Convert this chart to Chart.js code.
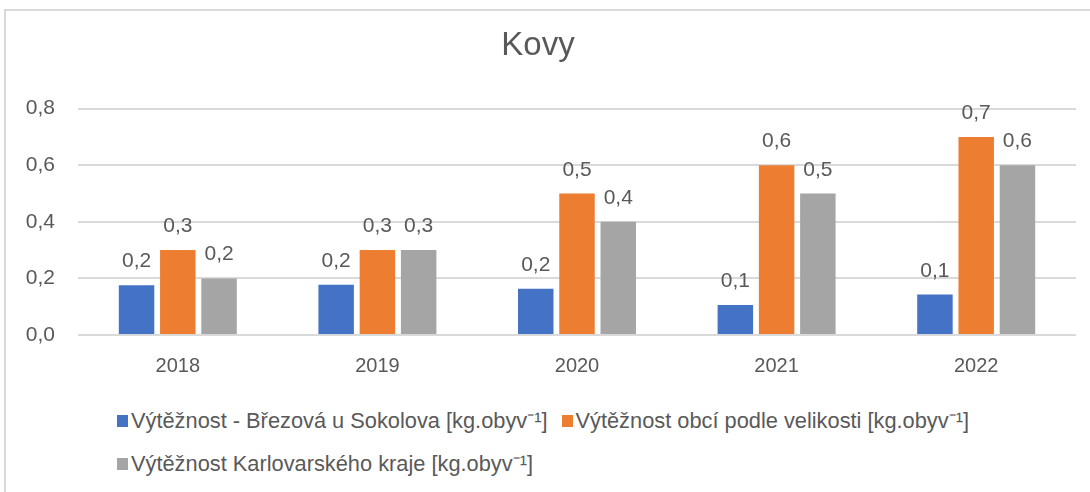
<!DOCTYPE html>
<html>
<head>
<meta charset="utf-8">
<script src="https://cdn.jsdelivr.net/npm/chart.js@4.4.0/dist/chart.umd.min.js"></script>
<style>
    html, body { margin: 0; padding: 0; background: #fff; }
    body { width: 1090px; height: 492px; position: relative; overflow: hidden; font-family: "Liberation Sans", Arial, sans-serif; }
    #frame { position: absolute; left: 4px; top: 9px; width: 1100px; height: 500px; border: 2px solid #d9d9d9; box-sizing: border-box; }
    #chartBox { position: absolute; left: 0; top: 0; width: 1090px; height: 397px; }
    #legend { position: absolute; left: 117px; top: 408px; width: 940px; display: flex; flex-wrap: wrap; column-gap: 14px; row-gap: 17px; color: #595959; font-size: 21.8px; line-height: 26px; }
    .item { display: flex; align-items: center; white-space: nowrap; }
    .box { width: 11px; height: 12px; margin-right: 3px; }
</style>
</head>
<body>
<div id="frame"></div>
<div id="chartBox"><canvas id="kovyChart"></canvas></div>
<div id="legend"></div>

<script>
// Chart data
const years = ['2018', '2019', '2020', '2021', '2022'];
const brezovaValues = [0.176, 0.178, 0.163, 0.106, 0.143];
const obceValues = [0.3, 0.3, 0.5, 0.6, 0.7];
const krajValues = [0.2, 0.3, 0.4, 0.5, 0.6];
const yTicks = [0, 0.2, 0.4, 0.6, 0.8];
const seriesNames = [
    'Výtěžnost - Březová u Sokolova [kg.obyv\u207B\u00B9]',
    'Výtěžnost obcí podle velikosti [kg.obyv\u207B\u00B9]',
    'Výtěžnost Karlovarského kraje [kg.obyv\u207B\u00B9]'
];
const seriesColors = ['#4472C4', '#ED7D31', '#A5A5A5'];

const textColor = '#595959';
const fontFamily = '"Liberation Sans", Arial, sans-serif';

function formatComma(v) {
    return v.toFixed(1).replace('.', ',');
}

/**
 * Draw value labels above bars
 */
const valueLabels = {
    id: 'valueLabels',
    afterDatasetsDraw(chart) {
        const ctx = chart.ctx;
        ctx.save();
        ctx.font = '21px ' + fontFamily;
        ctx.fillStyle = textColor;
        ctx.textAlign = 'center';
        ctx.textBaseline = 'alphabetic';
        chart.data.datasets.forEach((ds, i) => {
            chart.getDatasetMeta(i).data.forEach((bar, j) => {
                ctx.fillText(formatComma(ds.data[j]), bar.x, bar.y - 18);
            });
        });
        ctx.restore();
    }
};

const datasets = [brezovaValues, obceValues, krajValues].map((values, i) => ({
    label: seriesNames[i],
    data: values,
    backgroundColor: seriesColors[i],
    barPercentage: 0.86,
    categoryPercentage: 0.62
}));

const chart = new Chart(document.getElementById('kovyChart'), {
    type: 'bar',
    data: { labels: years, datasets: datasets },
    options: {
        responsive: true,
        maintainAspectRatio: false,
        animation: false,
        layout: { padding: { left: 0, right: 14, top: 0, bottom: 0 } },
        plugins: {
            legend: { display: false },
            tooltip: { enabled: false },
            title: {
                display: true,
                text: 'Kovy',
                color: textColor,
                font: { family: fontFamily, size: 33, weight: 'normal' },
                padding: { top: 26, bottom: 43 }
            }
        },
        scales: {
            x: {
                grid: { display: false, drawTicks: false },
                border: { display: false },
                ticks: { color: textColor, font: { family: fontFamily, size: 20 }, padding: 19 }
            },
            y: {
                min: 0,
                max: 0.8,
                afterFit(scale) { scale.width = 78; },
                afterBuildTicks(scale) { scale.ticks = yTicks.map(v => ({ value: v })); },
                grid: { color: '#d9d9d9', lineWidth: 2, drawTicks: false },
                border: { display: false },
                ticks: {
                    color: textColor,
                    font: { family: fontFamily, size: 21 },
                    padding: 23,
                    callback: v => formatComma(v)
                }
            }
        }
    },
    plugins: [valueLabels]
});

// HTML legend built from the chart datasets
const legendEl = document.getElementById('legend');
chart.data.datasets.forEach(ds => {
    const item = document.createElement('div');
    item.className = 'item';
    const box = document.createElement('span');
    box.className = 'box';
    box.style.background = ds.backgroundColor;
    const txt = document.createElement('span');
    txt.textContent = ds.label;
    item.appendChild(box);
    item.appendChild(txt);
    legendEl.appendChild(item);
});
</script>
</body>
</html>
